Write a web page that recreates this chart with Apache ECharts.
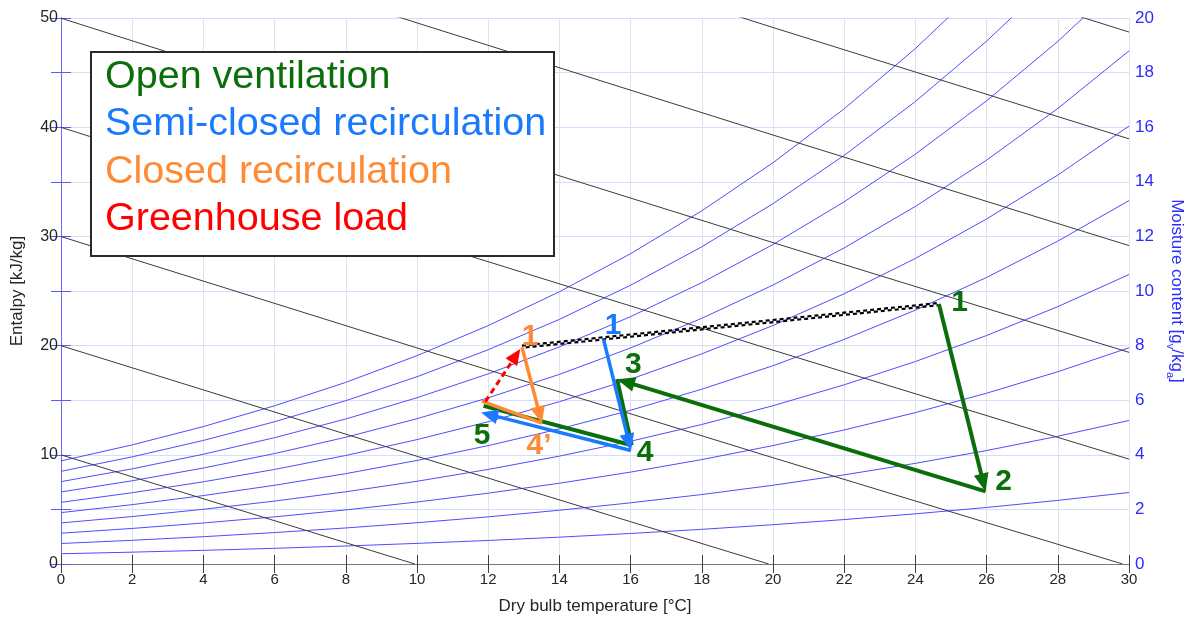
<!DOCTYPE html>
<html>
<head>
<meta charset="utf-8">
<script src="https://cdn.jsdelivr.net/npm/echarts@6/dist/echarts.min.js"></script>
<style>
html,body{margin:0;padding:0;background:#ffffff;}
#chart{width:1190px;height:619px;}
</style>
</head>
<body>
<div id="chart"></div>
<script>
// ---------------- DATA ----------------
// Temperatures (°C) at which the relative-humidity curves are sampled
const RH_TEMPS = [0, 2, 4, 6, 8, 10, 12, 14, 16, 18, 20, 22, 24, 26, 28, 30];
// Moisture content (g/kg) along each relative-humidity curve (10 % ... 100 %)
const RH_10  = [0.375, 0.434, 0.500, 0.575, 0.659, 0.755, 0.862, 0.983, 1.118, 1.270, 1.439, 1.628, 1.838, 2.071, 2.330, 2.618];
const RH_20  = [0.751, 0.868, 1.000, 1.151, 1.320, 1.512, 1.727, 1.969, 2.241, 2.545, 2.885, 3.265, 3.687, 4.156, 4.678, 5.257];
const RH_30  = [1.128, 1.303, 1.502, 1.727, 1.982, 2.270, 2.594, 2.959, 3.367, 3.825, 4.338, 4.910, 5.546, 6.256, 7.043, 7.919];
const RH_40  = [1.504, 1.738, 2.004, 2.305, 2.645, 3.030, 3.464, 3.951, 4.498, 5.111, 5.798, 6.564, 7.417, 8.369, 9.426, 10.604];
const RH_50  = [1.882, 2.174, 2.507, 2.884, 3.310, 3.793, 4.336, 4.947, 5.632, 6.402, 7.264, 8.227, 9.299, 10.496, 11.827, 13.311];
const RH_60  = [2.259, 2.611, 3.011, 3.464, 3.976, 4.557, 5.210, 5.945, 6.771, 7.698, 8.737, 9.899, 11.192, 12.638, 14.247, 16.042];
const RH_70  = [2.638, 3.048, 3.516, 4.046, 4.643, 5.323, 6.087, 6.947, 7.914, 8.999, 10.217, 11.579, 13.097, 14.795, 16.685, 18.797];
const RH_80  = [3.016, 3.486, 4.021, 4.628, 5.312, 6.090, 6.966, 7.952, 9.061, 10.306, 11.704, 13.268, 15.013, 16.966, 19.142, 21.575];
const RH_90  = [3.395, 3.924, 4.527, 5.211, 5.983, 6.860, 7.848, 8.961, 10.212, 11.619, 13.198, 14.967, 16.941, 19.152, 21.618, 24.378];
const RH_100 = [3.775, 4.363, 5.034, 5.796, 6.654, 7.632, 8.732, 9.972, 11.367, 12.937, 14.699, 16.674, 18.880, 21.353, 24.113, 27.205];
const RH_CURVES = [RH_10, RH_20, RH_30, RH_40, RH_50, RH_60, RH_70, RH_80, RH_90, RH_100];

// Constant-enthalpy lines (kJ/kg): [temperature °C, moisture g/kg] points
const H_10 = [[0, 3.998], [9.94, 0]];
const H_20 = [[0, 7.997], [10, 3.945], [19.88, 0]];
const H_30 = [[0, 11.995], [10, 7.914], [20, 3.893], [29.82, 0]];
const H_40 = [[0, 15.994], [10, 11.883], [20, 7.832], [30, 3.841]];
const H_50 = [[0, 19.992], [10, 15.852], [20, 11.772], [30, 7.752]];
const H_60 = [[0, 23.990], [10, 19.821], [20, 15.712], [30, 11.663]];
const H_70 = [[0, 27.989], [10, 23.790], [20, 19.652], [30, 15.574]];
const H_80 = [[10, 27.758], [20, 23.592], [30, 19.485]];
const H_LINES = [H_10, H_20, H_30, H_40, H_50, H_60, H_70, H_80];

// Process states [temperature °C, moisture g/kg]
const OPEN_1 = [24.66, 9.52];
const OPEN_2 = [25.97, 2.66];
const OPEN_3 = [15.62, 6.77];
const OPEN_4 = [16.03, 4.35];
const OPEN_5 = [11.87, 5.79];
const SEMI_1 = [15.24, 8.23];
const SEMI_4 = [16.01, 4.16];
const SEMI_5 = [11.80, 5.55];
const CLOSED_1 = [12.95, 7.94];
const CLOSED_4P = [13.51, 5.16];
const CLOSED_5 = [11.82, 5.97];
const LOAD_FROM = [11.92, 5.95];
const LOAD_TO = [12.90, 7.88];
const MIX_FROM = [12.95, 7.96];
const MIX_TO = [24.66, 9.52];

// State labels: [temperature, moisture, text]
const OPEN_LABELS = [[25.24, 9.56, '1'], [26.48, 3.02, '2'], [16.08, 7.29, '3'], [16.41, 4.07, '4'], [11.83, 4.69, '5']];
const SEMI_LABELS = [[15.51, 8.72, '1']];
const CLOSED_LABELS = [[13.18, 8.32, '1'], [13.43, 4.33, '4\u2019']];

const LEGEND_TEXTS = ['Open ventilation', 'Semi-closed recirculation', 'Closed recirculation', 'Greenhouse load'];

// ---------------- STYLE ----------------
const GREEN = '#0a6e0a', BLUE = '#1a7aff', ORANGE = '#ff8a33', RED = '#ff0000';
const FONT = "'Liberation Sans', Arial, Helvetica, sans-serif";

function seg(a, b, head) { return [a[0], a[1], b[0], b[1], head ? 1 : 0]; }

function arrowRenderer(color, width, dash, headLen, headW) {
  return function (params, api) {
    const a = api.coord([api.value(0), api.value(1)]);
    const b = api.coord([api.value(2), api.value(3)]);
    const head = api.value(4);
    const dx = b[0] - a[0], dy = b[1] - a[1];
    const len = Math.hypot(dx, dy) || 1;
    const ux = dx / len, uy = dy / len;
    const ex = head ? b[0] - ux * headLen * 0.7 : b[0];
    const ey = head ? b[1] - uy * headLen * 0.7 : b[1];
    const children = [{
      type: 'line',
      shape: { x1: a[0], y1: a[1], x2: ex, y2: ey },
      style: { stroke: color, lineWidth: width, lineDash: dash || null, fill: null }
    }];
    if (head) {
      const bx = b[0] - ux * headLen, by = b[1] - uy * headLen;
      const nx = -uy, ny = ux;
      children.push({
        type: 'polygon',
        shape: { points: [[b[0], b[1]], [bx + nx * headW / 2, by + ny * headW / 2], [bx - nx * headW / 2, by - ny * headW / 2]] },
        style: { fill: color, stroke: null }
      });
    }
    return { type: 'group', children: children };
  };
}

function mixRenderer(params, api) {
  const a = api.coord([api.value(0), api.value(1)]);
  const b = api.coord([api.value(2), api.value(3)]);
  const dx = b[0] - a[0], dy = b[1] - a[1];
  const len = Math.hypot(dx, dy) || 1;
  const nx = -dy / len, ny = dx / len;
  const mk = (o, off) => ({
    type: 'line',
    shape: { x1: a[0] + nx * o, y1: a[1] + ny * o, x2: b[0] + nx * o, y2: b[1] + ny * o },
    style: { stroke: '#000', lineWidth: 2.2, lineDash: [4, 3], lineDashOffset: off, fill: null }
  });
  return { type: 'group', children: [mk(-1.1, 0), mk(1.1, 3.5)] };
}

const series = [];
RH_CURVES.forEach(function (vals, i) {
  series.push({
    type: 'line', xAxisIndex: 0, yAxisIndex: 1, silent: true, showSymbol: false, clip: true,
    data: RH_TEMPS.map((t, j) => [t, vals[j]]),
    lineStyle: { color: '#4d4dff', width: 1 }, z: 2
  });
});
H_LINES.forEach(function (pts) {
  series.push({
    type: 'line', xAxisIndex: 0, yAxisIndex: 1, silent: true, showSymbol: false, clip: true,
    data: pts, lineStyle: { color: '#3a3a3a', width: 1 }, z: 2
  });
});
series.push({
  type: 'custom', xAxisIndex: 0, yAxisIndex: 1, silent: true, z: 3,
  renderItem: mixRenderer, data: [seg(MIX_FROM, MIX_TO, false)]
});
series.push({
  type: 'custom', xAxisIndex: 0, yAxisIndex: 1, silent: true, z: 4,
  renderItem: arrowRenderer(GREEN, 4, null, 18, 15),
  data: [seg(OPEN_1, OPEN_2, true), seg(OPEN_2, OPEN_3, true), seg(OPEN_3, OPEN_4, false), seg(OPEN_4, OPEN_5, false)]
});
series.push({
  type: 'custom', xAxisIndex: 0, yAxisIndex: 1, silent: true, z: 5,
  renderItem: arrowRenderer(BLUE, 3.5, null, 17, 15),
  data: [seg(SEMI_1, SEMI_4, true), seg(SEMI_4, SEMI_5, true)]
});
series.push({
  type: 'custom', xAxisIndex: 0, yAxisIndex: 1, silent: true, z: 6,
  renderItem: arrowRenderer(ORANGE, 3.5, null, 17, 15),
  data: [seg(CLOSED_1, CLOSED_4P, true), seg(CLOSED_4P, CLOSED_5, false)]
});
series.push({
  type: 'custom', xAxisIndex: 0, yAxisIndex: 1, silent: true, z: 7,
  renderItem: arrowRenderer(RED, 3, [6, 4], 16, 14),
  data: [seg(LOAD_FROM, LOAD_TO, true)]
});
function labelSeries(arr, color) {
  return {
    type: 'scatter', xAxisIndex: 0, yAxisIndex: 1, silent: true, symbolSize: 0, z: 8,
    itemStyle: { color: color, opacity: 1 },
    data: arr.map(d => ({ value: [d[0], d[1]], name: d[2] })),
    label: { show: true, position: 'inside', formatter: '{b}', color: color, opacity: 1,
      textBorderWidth: 0, textShadowBlur: 0,
      fontSize: 30, fontWeight: 'bold', fontFamily: FONT }
  };
}
series.push(labelSeries(OPEN_LABELS, GREEN));
series.push(labelSeries(SEMI_LABELS, BLUE));
series.push(labelSeries(CLOSED_LABELS, ORANGE));

const legendColors = [GREEN, BLUE, ORANGE, RED];
const graphics = [{
  type: 'rect', z: 100, shape: { x: 91, y: 52, width: 463, height: 204 },
  style: { fill: '#ffffff', stroke: '#2a2a2a', lineWidth: 2 }
}];
LEGEND_TEXTS.forEach(function (t, i) {
  graphics.push({
    type: 'text', z: 101, x: 105, y: 77 + i * 47.5,
    style: { text: t, fill: legendColors[i], font: '39.5px ' + FONT, verticalAlign: 'middle', align: 'left' }
  });
});

const option = {
  animation: false,
  backgroundColor: '#ffffff',
  grid: { left: 61, right: 61, top: 18, bottom: 55, containLabel: false, outerBoundsMode: 'none' },
  xAxis: [{
    type: 'value', min: 0, max: 30, interval: 2, position: 'bottom',
    axisLine: { lineStyle: { color: '#7a7a7a', width: 1 } },
    axisTick: { inside: true, length: 9, lineStyle: { color: '#404040' } },
    axisLabel: { color: '#262626', fontSize: 15, margin: 8, fontFamily: FONT },
    splitLine: { show: true, lineStyle: { color: '#e2e2ec', width: 1 } },
    name: 'Dry bulb temperature [°C]', nameLocation: 'middle', nameGap: 34,
    nameTextStyle: { color: '#262626', fontSize: 17, fontFamily: FONT }
  }, {
    type: 'value', min: 0, max: 30, interval: 2, position: 'top',
    axisLine: { show: true, lineStyle: { color: '#7a7a7a', width: 1 } },
    axisTick: { show: true, inside: true, length: 9, lineStyle: { color: '#404040' } },
    axisLabel: { show: false }, splitLine: { show: false }
  }],
  yAxis: [{
    type: 'value', min: 0, max: 50, interval: 5, position: 'left',
    axisLine: { show: true, lineStyle: { color: '#6a6aff', width: 1 } },
    axisTick: { show: true, inside: true, length: 10, lineStyle: { color: '#5a5aff' } },
    axisLabel: { color: '#262626', fontSize: 16, margin: 3, fontFamily: FONT, formatter: v => (v % 10 === 0 ? String(v) : '') },
    splitLine: { show: true, lineStyle: { color: '#dadaff', width: 1 } },
    name: 'Entalpy [kJ/kg]', nameLocation: 'middle', nameGap: 35, nameRotate: 90,
    nameTextStyle: { color: '#262626', fontSize: 17, fontFamily: FONT }
  }, {
    type: 'value', min: 0, max: 20, interval: 2, position: 'right',
    axisLine: { show: true, lineStyle: { color: '#6a6aff', width: 1 } },
    axisTick: { show: true, inside: true, length: 10, lineStyle: { color: '#5a5aff' } },
    axisLabel: { color: '#2b2bff', fontSize: 17, margin: 6, fontFamily: FONT },
    splitLine: { show: false },
    name: '{n|Moisture content [g}{s|v}{n|/kg}{s|a}{n|]}', nameLocation: 'middle', nameGap: 35, nameRotate: -90,
    nameTextStyle: {
      color: '#2b2bff', fontSize: 17, fontFamily: FONT,
      rich: {
        n: { color: '#2b2bff', fontSize: 17, fontFamily: FONT, lineHeight: 24 },
        s: { color: '#2b2bff', fontSize: 11, fontFamily: FONT, lineHeight: 11, verticalAlign: 'bottom' }
      }
    }
  }],
  series: series,
  graphic: graphics
};

const chart = echarts.init(document.getElementById('chart'), null, { renderer: 'canvas' });
chart.setOption(option);
</script>
</body>
</html>
